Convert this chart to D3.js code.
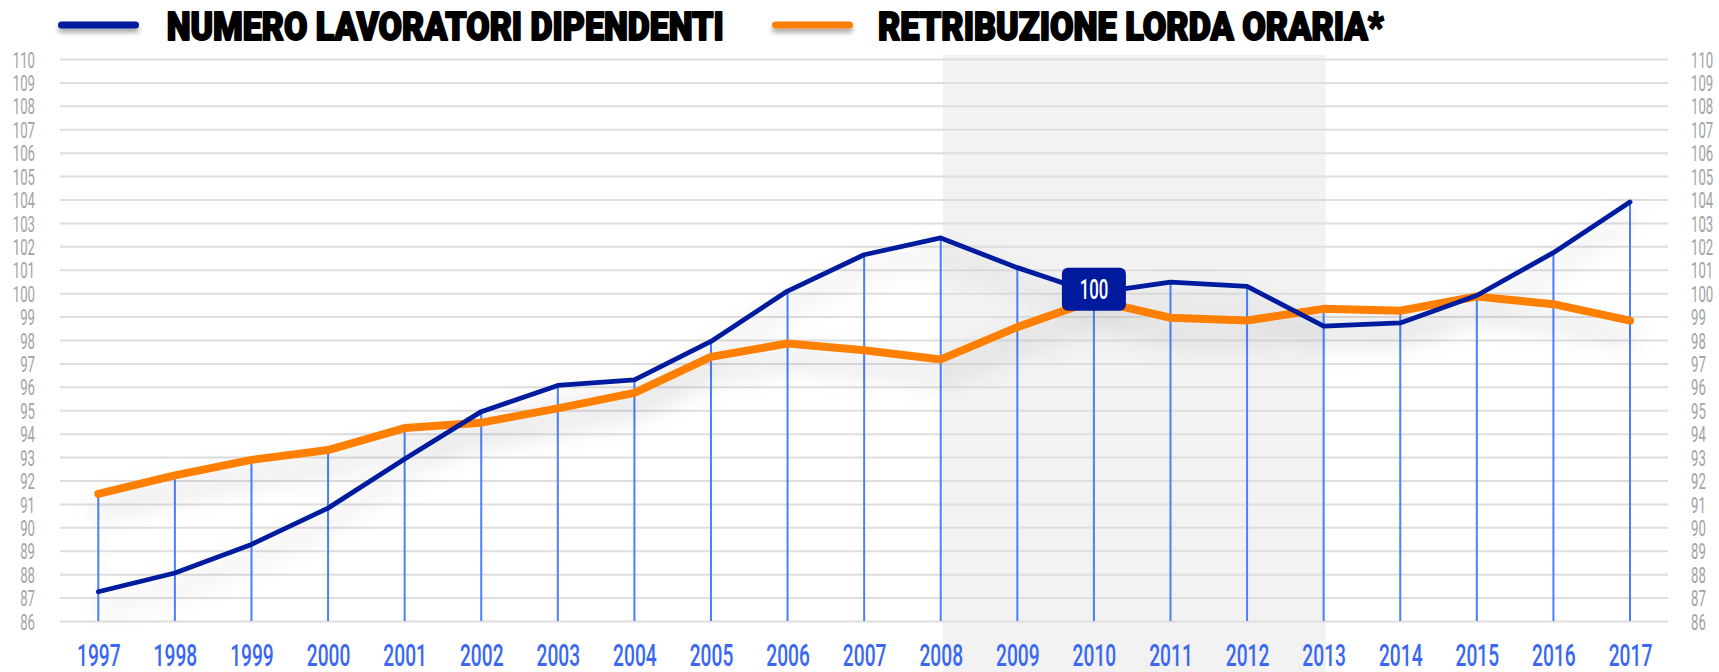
<!DOCTYPE html>
<html>
<head>
<meta charset="utf-8">
<script src="https://cdn.jsdelivr.net/npm/d3@7"></script>
<style>
  body { margin: 0; background: #fff; }
  svg { display: block; }
</style>
</head>
<body>
<svg id="chart" width="1719" height="672"></svg>
<script>
// data (2010 = 100)
const years = d3.range(1997, 2018);
const workers = [87.25, 88.05, 89.27, 90.82, 92.92, 94.94, 96.06, 96.3, 97.94, 100.09,
                 101.64, 102.36, 101.09, 100.0, 100.47, 100.29, 98.59, 98.73, 99.9, 101.73, 103.89];
const wages = [91.43, 92.22, 92.88, 93.3, 94.24, 94.47, 95.08, 95.74, 97.28, 97.85,
               97.56, 97.17, 98.55, 99.7, 98.95, 98.83, 99.33, 99.25, 99.86, 99.53, 98.83];
const legendLabels = ["NUMERO LAVORATORI DIPENDENTI", "RETRIBUZIONE LORDA ORARIA*"];
const yTicks = d3.range(86, 111);
const crisis = [2008, 2013];
const baseYear = 2010;

const navy = "#001a9e", orange = "#ff7f00", dropBlue = "#4a80ff", yearBlue = "#3a68f2";

const svg = d3.select("#chart");
const gLeft = 60, gRight = 1668, gTop = 59, gBottom = 621;

const x = d3.scaleLinear().domain([1997, 2017]).range([98.3, 1630]);
const y = d3.scaleLinear().domain([86, 110]).range([gBottom, gTop]);

// filters
const defs = svg.append("defs");
let f = defs.append("filter").attr("id", "bigShadow")
  .attr("filterUnits", "userSpaceOnUse")
  .attr("x", 0).attr("y", 0).attr("width", 1719).attr("height", 672);
f.append("feDropShadow").attr("dx", 0).attr("dy", 16).attr("stdDeviation", 13)
  .attr("flood-color", "#000").attr("flood-opacity", 0.2);
let f2 = defs.append("filter").attr("id", "smallShadow")
  .attr("filterUnits", "userSpaceOnUse")
  .attr("x", 0).attr("y", 0).attr("width", 1719).attr("height", 60);
f2.append("feDropShadow").attr("dx", 0).attr("dy", 4).attr("stdDeviation", 2.5)
  .attr("flood-color", "#000").attr("flood-opacity", 0.35);

// crisis band
svg.append("rect")
  .attr("x", x(crisis[0]) + 2).attr("y", 55)
  .attr("width", x(crisis[1]) - x(crisis[0]))
  .attr("height", 672 - 55)
  .attr("fill", "#f2f2f2");

// gridlines
svg.append("g")
  .attr("transform", `translate(${gLeft},0)`)
  .call(d3.axisLeft(y).tickValues(yTicks).tickSize(-(gRight - gLeft)).tickFormat(""))
  .call(g => g.select(".domain").remove())
  .call(g => g.selectAll("line").attr("stroke", "#dedede").attr("stroke-width", 2));

// y labels, both sides
function yLabels(g, anchor) {
  g.select(".domain").remove();
  g.selectAll("line").remove();
  g.selectAll("text")
    .attr("x", 0).attr("dy", "0.37em")
    .attr("text-anchor", anchor)
    .attr("transform", "scale(0.6,1)")
    .attr("fill", "#a3a3a3")
    .attr("font-family", "Roboto, sans-serif")
    .attr("font-size", 22);
}
svg.append("g").attr("transform", "translate(35,0)")
  .call(d3.axisLeft(y).tickValues(yTicks).tickSize(0))
  .call(g => yLabels(g, "end"));
svg.append("g").attr("transform", "translate(1691,0)")
  .call(d3.axisRight(y).tickValues(yTicks).tickSize(0))
  .call(g => yLabels(g, "start"));

// x labels
svg.append("g").attr("transform", "translate(0,666)")
  .call(d3.axisBottom(x).tickValues(years).tickSize(0).tickFormat(d3.format("d")))
  .call(g => g.select(".domain").remove())
  .call(g => g.selectAll("text")
    .attr("y", 0).attr("dy", 0)
    .attr("transform", "scale(0.6,1)")
    .attr("fill", yearBlue)
    .attr("font-family", "Roboto, sans-serif")
    .attr("font-weight", 500)
    .attr("font-size", 32));

// drop lines
svg.append("g").selectAll("line")
  .data(years)
  .join("line")
  .attr("x1", d => x(d)).attr("x2", d => x(d))
  .attr("y1", gBottom)
  .attr("y2", (d, i) => y(Math.max(workers[i], wages[i])))
  .attr("stroke", dropBlue).attr("stroke-width", 2);

// series lines
const line = d3.line().x(d => x(d[0])).y(d => y(d[1]));
const lines = svg.append("g").attr("filter", "url(#bigShadow)");
lines.append("path")
  .datum(years.map((d, i) => [d, wages[i]]))
  .attr("d", line).attr("fill", "none")
  .attr("stroke", orange).attr("stroke-width", 8)
  .attr("stroke-linejoin", "round").attr("stroke-linecap", "round");
lines.append("path")
  .datum(years.map((d, i) => [d, workers[i]]))
  .attr("d", line).attr("fill", "none")
  .attr("stroke", navy).attr("stroke-width", 4.8)
  .attr("stroke-linejoin", "round").attr("stroke-linecap", "round");

// base year badge
const bx = x(baseYear), by = y(100) - 4;
svg.append("rect")
  .attr("x", bx - 32).attr("y", by - 21.5)
  .attr("width", 64).attr("height", 43).attr("rx", 6)
  .attr("fill", navy);
svg.append("text")
  .attr("transform", `translate(${bx},${by + 9.5}) scale(0.62,1)`)
  .attr("text-anchor", "middle")
  .attr("fill", "#fff")
  .attr("font-family", "Roboto, sans-serif")
  .attr("font-weight", 500)
  .attr("font-size", 27)
  .text("100");

// legend
const legend = [
  {label: legendLabels[0], color: navy, x1: 58, x2: 139, tx: 166.7, tw: 557},
  {label: legendLabels[1], color: orange, x1: 772, x2: 853, tx: 878, tw: 505.6}
];
legend.forEach(l => {
  svg.append("rect")
    .attr("x", l.x1).attr("y", 21.5)
    .attr("width", l.x2 - l.x1).attr("height", 7).attr("rx", 3.5)
    .attr("fill", l.color)
    .attr("filter", "url(#smallShadow)");
  svg.append("text")
    .attr("x", l.tx).attr("y", 40)
    .attr("textLength", l.tw).attr("lengthAdjust", "spacingAndGlyphs")
    .attr("font-family", "Roboto, sans-serif")
    .attr("font-weight", 900)
    .attr("font-size", 39)
    .attr("fill", "#000")
    .attr("stroke", "#000").attr("stroke-width", 2).attr("stroke-linejoin", "round")
    .text(l.label);
});
</script>
</body>
</html>
